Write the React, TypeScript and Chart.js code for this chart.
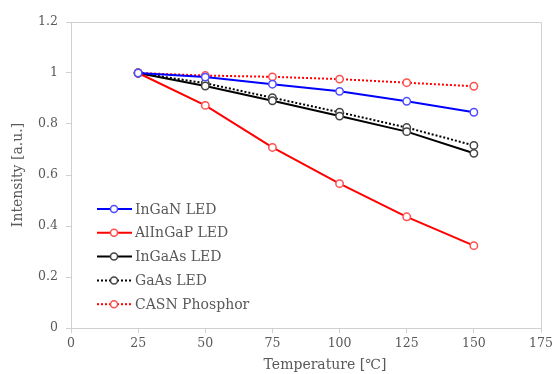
import React, { useEffect, useRef } from "react";
import { Chart, registerables } from "chart.js";

Chart.register(...registerables);

const temperatures = [25, 50, 75, 100, 125, 150];
const inganLed = [1, 0.984, 0.956, 0.928, 0.889, 0.846];
const alingapLed = [1, 0.873, 0.708, 0.566, 0.436, 0.323];
const ingaasLed = [1, 0.949, 0.891, 0.831, 0.77, 0.685];
const gaasLed = [1, 0.96, 0.903, 0.846, 0.786, 0.716];
const casnPhosphor = [1, 0.99, 0.985, 0.976, 0.962, 0.948];

const seriesNames = ["InGaN LED", "AlInGaP LED", "InGaAs LED", "GaAs LED", "CASN Phosphor"];
const xTicks = [0, 25, 50, 75, 100, 125, 150, 175];
const yTicks = [0, 0.2, 0.4, 0.6, 0.8, 1, 1.2];
const xTitle = "Temperature [℃]";
const yTitle = "Intensity [a.u.]";

const FONT = "'DejaVu Serif', serif";
const TEXT = "#595959";
const AXIS = "#d0d0d0";

const toPoints = (vals: number[]) => vals.map((v, i) => ({ x: temperatures[i], y: v }));

const legendPlugin = {
  id: "customLegend",
  afterDraw(chart: any) {
    const ctx = chart.ctx;
    const x0 = 97;
    const y0 = 209;
    const gap = 23.8;
    ctx.save();
    chart.data.datasets.forEach((ds: any, i: number) => {
      const y = y0 + i * gap;
      ctx.beginPath();
      ctx.strokeStyle = ds.borderColor;
      ctx.lineWidth = ds.borderWidth;
      ctx.setLineDash(ds.borderDash || []);
      ctx.moveTo(x0, y);
      ctx.lineTo(x0 + 35, y);
      ctx.stroke();
      ctx.setLineDash([]);
      ctx.beginPath();
      ctx.arc(x0 + 17, y, 3.5, 0, Math.PI * 2);
      ctx.fillStyle = "#ffffff";
      ctx.fill();
      ctx.lineWidth = 1.5;
      ctx.strokeStyle = ds.pointBorderColor;
      ctx.stroke();
      ctx.fillStyle = TEXT;
      ctx.font = "14px " + FONT;
      ctx.textBaseline = "middle";
      ctx.textAlign = "left";
      ctx.fillText(ds.label, x0 + 38, y + 1);
    });
    // x-axis title
    ctx.font = "14px " + FONT;
    ctx.textAlign = "center";
    ctx.textBaseline = "middle";
    ctx.fillText(xTitle, 325, 365);
    ctx.restore();
  },
};

const framePlugin = {
  id: "frame",
  beforeDatasetsDraw(chart: any) {
    const { ctx, chartArea } = chart;
    ctx.save();
    ctx.strokeStyle = AXIS;
    ctx.lineWidth = 1;
    ctx.beginPath();
    ctx.moveTo(chartArea.left, chartArea.top + 0.5);
    ctx.lineTo(chartArea.right + 0.5, chartArea.top + 0.5);
    ctx.lineTo(chartArea.right + 0.5, chartArea.bottom);
    ctx.stroke();
    ctx.restore();
  },
};

export default function App() {
  const ref = useRef<HTMLCanvasElement>(null);
  useEffect(() => {
    document.body.style.margin = "0";
    const mk = (label: string, vals: number[], color: string, pointColor: string, dash?: number[]) => ({
      label,
      data: toPoints(vals),
      borderColor: color,
      borderWidth: 2,
      borderDash: dash,
      pointRadius: 3.7,
      pointBorderWidth: 1.5,
      pointBackgroundColor: "#ffffff",
      pointBorderColor: pointColor,
      tension: 0,
    });
    const chart = new Chart(ref.current!, {
      type: "scatter",
      data: {
        datasets: [
          mk(seriesNames[0], inganLed, "#0000ff", "#4d4dff"),
          mk(seriesNames[1], alingapLed, "#ff0000", "#ff5050"),
          mk(seriesNames[2], ingaasLed, "#000000", "#444444"),
          mk(seriesNames[3], gaasLed, "#000000", "#444444", [2, 2]),
          mk(seriesNames[4], casnPhosphor, "#ff0000", "#ff5050", [2, 2]),
        ] as any,
      },
      options: {
        animation: false,
        responsive: false,
        showLine: true,
        layout: { padding: { top: 22, right: 15, left: 0, bottom: 0 } },
        plugins: { legend: { display: false }, tooltip: { enabled: false } },
        scales: {
          x: {
            type: "linear",
            min: 0,
            max: 175,
            afterBuildTicks: (s: any) => {
              s.ticks = xTicks.map((v) => ({ value: v }));
            },
            afterFit: (s: any) => {
              s.height = 46;
            },
            ticks: { color: TEXT, font: { family: FONT, size: 12.5 }, padding: 3, maxRotation: 0 },
            grid: { drawOnChartArea: false, drawTicks: true, tickLength: 5, color: AXIS },
            border: { color: AXIS },
          },
          y: {
            type: "linear",
            min: 0,
            max: 1.2,
            afterBuildTicks: (s: any) => {
              s.ticks = yTicks.map((v) => ({ value: v }));
            },
            afterFit: (s: any) => {
              s.width = 71;
            },
            ticks: {
              color: TEXT,
              font: { family: FONT, size: 12.5 },
              padding: 8,
              callback: (v: any) => String(Math.round(Number(v) * 10) / 10),
            },
            grid: { drawOnChartArea: false, drawTicks: true, tickLength: 5, color: AXIS },
            border: { color: AXIS },
            title: {
              display: true,
              text: yTitle,
              color: TEXT,
              font: { family: FONT, size: 14 },
              padding: { top: 10, bottom: 4 },
            },
          },
        },
      },
      plugins: [framePlugin, legendPlugin],
    } as any);
    return () => chart.destroy();
  }, []);
  return <canvas ref={ref} width={556} height={374} style={{ display: "block" }} />;
}
